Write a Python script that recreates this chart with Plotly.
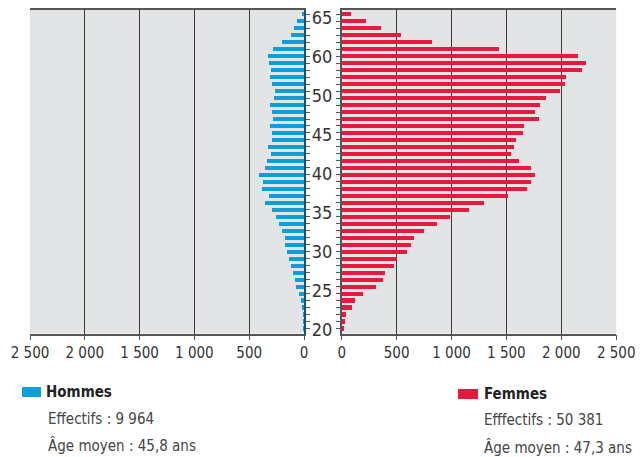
import plotly.graph_objects as go

ages = list(range(65, 19, -1))
hommes = [15, 67, 91, 119, 198, 283, 328, 322, 298, 313, 292, 265, 277, 307, 292, 283,
          307, 295, 295, 325, 304, 340, 356, 407, 370, 380, 319, 358, 295, 255, 231, 197,
          176, 176, 151, 137, 119, 97, 79, 69, 42, 30, 18, 9, 3, 2]
femmes = [82, 215, 352, 537, 820, 1433, 2150, 2222, 2183, 2040, 2031, 1988, 1855, 1806, 1761, 1794,
          1658, 1649, 1582, 1567, 1539, 1612, 1718, 1761, 1718, 1688, 1509, 1290, 1154, 984, 862, 750,
          659, 628, 595, 498, 471, 392, 370, 313, 194, 115, 91, 36, 27, 15]
age_labels = ["65", "60", "50", "45", "40", "35", "30", "25", "20"]
x_ticks = [0, 500, 1000, 1500, 2000, 2500]
x_ticktext = ["0", "500", "1 000", "1 500", "2 000", "2 500"]

BLUE = "#0d9edc"
RED = "#e9193d"
FONT = "DejaVu Sans Condensed, Liberation Sans Narrow, Arial Narrow, sans-serif"
OFF = 8  # page body margin
W, H = 644 - OFF, 457 - OFF


def px(x):
    return (x - OFF) / W


def py(y):
    return 1 - (y - OFF) / H


fig = go.Figure()
fig.add_trace(go.Bar(y=ages, x=hommes, orientation="h", marker=dict(color=BLUE, line_width=0),
                     width=0.62, xaxis="x", yaxis="y", showlegend=False))
fig.add_trace(go.Bar(y=ages, x=femmes, orientation="h", marker=dict(color=RED, line_width=0),
                     width=0.62, xaxis="x2", yaxis="y2", showlegend=False))

yr = [19.3, 65.6]
ydom = [py(333.5), py(10)]
# age labels are spread evenly down the centre column
top_lab, bot_lab = max(ages) - 0.45, min(ages) - 0.2
n = len(age_labels)
label_pos = [top_lab - i * (top_lab - bot_lab) / (n - 1) for i in range(n)]

axis_x_common = dict(tickvals=x_ticks, ticktext=x_ticktext, showgrid=True, automargin=False,
                     gridcolor="#3a3a3a", gridwidth=1.3, ticks="outside", ticklen=5,
                     tickcolor="#555", tickfont=dict(family=FONT, size=15, color="#333"),
                     zeroline=False, showline=True, linecolor="#555", linewidth=1.5, mirror=True,
                     fixedrange=True)

fig.update_layout(
    width=W, height=H, margin=dict(l=0, r=0, t=0, b=0, autoexpand=False),
    paper_bgcolor="white", plot_bgcolor="#e3e4e6", bargap=0,
    xaxis=dict(axis_x_common, domain=[px(30), px(304)], range=[2500, 0], anchor="y"),
    xaxis2=dict(axis_x_common, domain=[px(341.7), px(616.2)], range=[0, 2500], anchor="y2"),
    yaxis=dict(domain=ydom, range=yr, anchor="x", side="right", showticklabels=False, automargin=False,
               tickvals=ages, ticks="outside", ticklen=4, tickcolor="#555", showgrid=False,
               zeroline=False, showline=True, linecolor="#1d4e70", linewidth=1.5),
    yaxis2=dict(domain=ydom, range=yr, anchor="x2", side="left", tickvals=label_pos, automargin=False,
                ticktext=age_labels, ticks="", ticklabelstandoff=4, ticklabeloverflow="allow",
                tickfont=dict(family=FONT, size=18, color="#333"),
                minor=dict(ticks="outside", ticklen=4, tickcolor="#555", dtick=1, tick0=20, showgrid=False),
                showgrid=False, zeroline=False, showline=True, linecolor="#555", linewidth=1.5),
)

fig.add_shape(type="rect", xref="paper", yref="paper", x0=px(22), x1=px(41),
              y0=py(397), y1=py(387), fillcolor=BLUE, line_width=0)
fig.add_shape(type="rect", xref="paper", yref="paper", x0=px(458), x1=px(478),
              y0=py(399), y1=py(389), fillcolor=RED, line_width=0)

texts = [
    (44, 392, "<b>Hommes</b>", 15, "#222"),
    (46, 419, "Effectifs : 9 964", 15, "#444"),
    (46, 445, "Âge moyen : 45,8 ans", 15, "#444"),
    (482, 394, "<b>Femmes</b>", 15, "#222"),
    (482, 420, "Efffectifs : 50 381", 15, "#444"),
    (482, 447, "Âge moyen : 47,3 ans", 15, "#444"),
]
for x, y, t, s, c in texts:
    fig.add_annotation(x=px(x), y=py(y), xref="paper", yref="paper", text=t, showarrow=False,
                       xanchor="left", yanchor="middle", font=dict(family=FONT, size=s, color=c))

fig.write_html("out.html")
